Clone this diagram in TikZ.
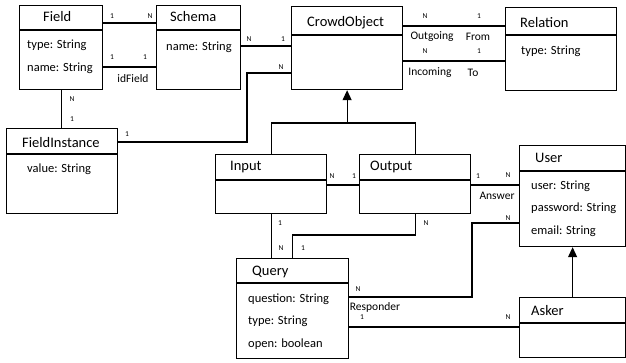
\documentclass[tikz,border=0pt]{standalone}
\usepackage{fontspec}
\setmainfont{Carlito}
\usetikzlibrary{arrows.meta}

\tikzset{
  cls/.style={draw, line width=1.2pt, rectangle, anchor=north west, inner sep=0pt},
  ttl/.style={anchor=west, inner sep=0pt, font=\fontsize{14.5}{17}\selectfont},
  attr/.style={anchor=west, inner sep=0pt, font=\fontsize{12.5}{15}\selectfont},
  role/.style={inner sep=0pt, font=\fontsize{11.5}{14}\selectfont},
  mult/.style={inner sep=0pt, font=\fontsize{7.5}{9}\selectfont},
  assoc/.style={line width=1.2pt},
  inherit/.style={line width=1.2pt, -{Triangle[width=9pt,length=10pt]}},
}

\begin{document}
\begin{tikzpicture}[x=1pt,y=-1pt]
    \useasboundingbox (0,0) rectangle (626,363);

    % classes
    \node[cls, minimum width=83, minimum height=84] (field) at (19,5) {};
    \node[cls, minimum width=84, minimum height=84] (schema) at (156,5) {};
    \node[cls, minimum width=111, minimum height=83] (crowd) at (291,6) {};
    \node[cls, minimum width=111, minimum height=83] (relation) at (505,7) {};
    \node[cls, minimum width=111, minimum height=85] (finst) at (6,128) {};
    \node[cls, minimum width=111, minimum height=59] (input) at (215,154) {};
    \node[cls, minimum width=111, minimum height=59] (output) at (359,154) {};
    \node[cls, minimum width=106, minimum height=101] (user) at (519,145) {};
    \node[cls, minimum width=112, minimum height=100] (query) at (236,258) {};
    \node[cls, minimum width=106, minimum height=60] (asker) at (519,297) {};

    % title bars
    \foreach \c/\s in {field/30, schema/30, crowd/35, relation/35, finst/154,
                       input/180, output/180, user/171, query/283, asker/323}
        \draw[line width=1.2pt] (\c.west |- 0,\s) -- (\c.east |- 0,\s);

    \node[ttl] (fieldT) at (43,17) {Field};
    \node[ttl] (schemaT) at (170,17) {Schema};
    \node[ttl] (crowdT) at (307,23) {CrowdObject};
    \node[ttl] (relationT) at (520,23) {Relation};
    \node[ttl] (finstT) at (22,143) {FieldInstance};
    \node[ttl] (inputT) at (230,167) {Input};
    \node[ttl] (outputT) at (370,167) {Output};
    \node[ttl] (userT) at (535,158) {User};
    \node[ttl] (queryT) at (252,272) {Query};
    \node[ttl] (askerT) at (531,311) {Asker};

    % attributes
    \node[attr] (fieldA1) at (27,45) {type: String};
    \node[attr] (fieldA2) at (27,68) {name: String};
    \node[attr] (schemaA1) at (166,47) {name: String};
    \node[attr] (relationA1) at (521,51) {type: String};
    \node[attr] (finstA1) at (27,169) {value: String};
    \node[attr] (userA1) at (531,186) {user: String};
    \node[attr] (userA2) at (531,208) {password: String};
    \node[attr] (userA3) at (531,231) {email: String};
    \node[attr] (queryA1) at (248,299) {question: String};
    \node[attr] (queryA2) at (248,321) {type: String};
    \node[attr] (queryA3) at (248,344) {open: boolean};

    % associations
    \draw[assoc] (field.east |- 0,23) -- (schema.west |- 0,23);
    \draw[assoc] (field.east |- 0,67) -- (schema.west |- 0,67);
    \draw[assoc] (schema.east |- 0,46) -- (crowd.west |- 0,46);
    \draw[assoc] (field.south) -- (field.south |- finst.north);
    \draw[assoc] (finst.east |- 0,142) -| (247,73) -- (crowd.west |- 0,73);
    \draw[assoc] (crowd.east |- 0,26) -- (relation.west |- 0,26);
    \draw[assoc] (crowd.east |- 0,61) -- (relation.west |- 0,61);
    \draw[assoc] (input.east |- 0,185) -- (output.west |- 0,185);
    \draw[assoc] (output.east |- 0,185) -- (user.west |- 0,185);
    \draw[assoc] (input.south) -- (input.south |- query.north);
    \draw[assoc] (output.south) -- (output.south |- 0,235) -| (query.north);
    \draw[assoc] (query.east |- 0,297) -| (472,223) -- (user.west |- 0,223);
    \draw[assoc] (query.east |- 0,327) -- (asker.west |- 0,327);

    % generalisations
    \coordinate (gen) at (crowd.south |- 0,123);
    \draw[assoc] (input.north) |- (gen) -| (output.north);
    \draw[inherit] (gen) -- (crowd.south);
    \draw[inherit] (asker.north) -- (user.south);

    % multiplicities and roles
    \node[mult] (m1) at (112,16) {1};
    \node[mult] (m2) at (150,16) {N};
    \node[mult] (m3) at (112,57) {1};
    \node[mult] (m4) at (145,57) {1};
    \node[role] (idf) at (133,79) {idField};
    \node[mult] (m5) at (249,39) {N};
    \node[mult] (m6) at (283,39) {1};
    \node[mult] (m7) at (72,99) {N};
    \node[mult] (m8) at (72,119) {1};
    \node[mult] (m9) at (127,134) {1};
    \node[mult] (m10) at (281,67) {N};
    \node[mult] (m11) at (425,16) {N};
    \node[mult] (m12) at (479,16) {1};
    \node[role] (outg) at (432,37) {Outgoing};
    \node[role] (from) at (478,37) {From};
    \node[mult] (m13) at (425,51) {N};
    \node[mult] (m14) at (479,51) {1};
    \node[role] (inc) at (430,73) {Incoming};
    \node[role] (to) at (473,73) {To};
    \node[mult] (m15) at (332,176) {N};
    \node[mult] (m16) at (354,176) {1};
    \node[mult] (m17) at (478,176) {1};
    \node[mult] (m18) at (508,175) {N};
    \node[role] (ans) at (497,196) {Answer};
    \node[mult] (m19) at (280,223) {1};
    \node[mult] (m20) at (281,248) {N};
    \node[mult] (m21) at (426,223) {N};
    \node[mult] (m22) at (303,248) {1};
    \node[mult] (m23) at (358,289) {N};
    \node[role] (resp) at (375,307) {Responder};
    \node[mult] (m24) at (362,317) {1};
    \node[mult] (m25) at (508,218) {N};
    \node[mult] (m26) at (508,317) {N};
\end{tikzpicture}
\end{document}
